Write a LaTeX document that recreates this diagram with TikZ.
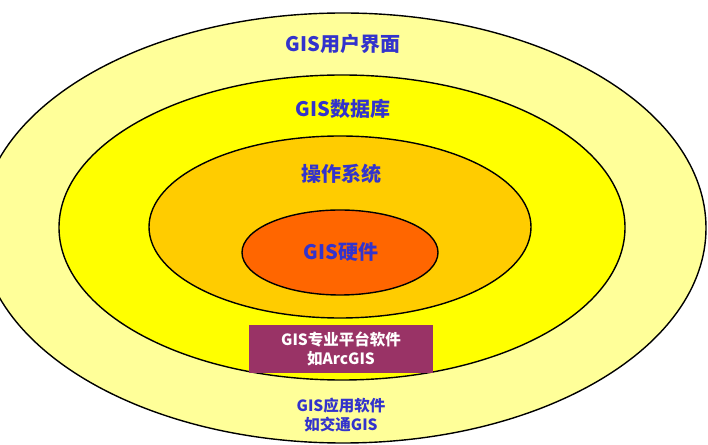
\documentclass[tikz,border=0pt]{standalone}
\usepackage{fontspec}
\usepackage{xcolor}
\usetikzlibrary{positioning}
\newfontfamily\cjk{Noto Sans CJK SC}
\definecolor{shell}{HTML}{FFFF99}
\definecolor{dbyellow}{HTML}{FFFF00}
\definecolor{osorange}{HTML}{FFCC00}
\definecolor{hworange}{HTML}{FF6600}
\definecolor{platform}{HTML}{993366}
\definecolor{labelblue}{HTML}{3333CC}

\begin{document}
\begin{tikzpicture}[x=1pt,y=1pt,
  ring/.style={draw=black, line width=1.4pt},
  lbl/.style={text=labelblue, font=\cjk\bfseries\fontsize{20}{24}\selectfont},
  small/.style={font=\cjk\bfseries\fontsize{15.5}{19}\selectfont, align=center}]
\useasboundingbox (0,0) rectangle (708,444);
\clip (0,0) rectangle (708,444);
% nested layers, outside in
\fill[white] (0,0) rectangle (708,444);
\draw[ring, fill=shell]    (343,216)   ellipse [x radius=363, y radius=215];
\draw[ring, fill=dbyellow] (342,216.5) ellipse [x radius=283, y radius=152.5];
\draw[ring, fill=osorange] (340,217)   ellipse [x radius=191, y radius=91];
\draw[ring, fill=hworange] (340,191.5) ellipse [x radius=98, y radius=42.5];
% layer names
\node[lbl] (ui) at (343,400) {GIS用户界面};
\node[lbl] (db) at (343,335) {GIS数据库};
\node[lbl] (os) at (341,270) {操作系统};
\node[lbl] (hw) at (341,192) {GIS硬件};
% software
\node[small, fill=platform, text=white, minimum width=184pt, minimum height=48pt,
  inner sep=0pt] (gisplat) at (341,95) {GIS专业平台软件\\如ArcGIS};
\node[small, text=labelblue] (gisapp) at (341,29) {GIS应用软件\\如交通GIS};
\end{tikzpicture}
\end{document}
